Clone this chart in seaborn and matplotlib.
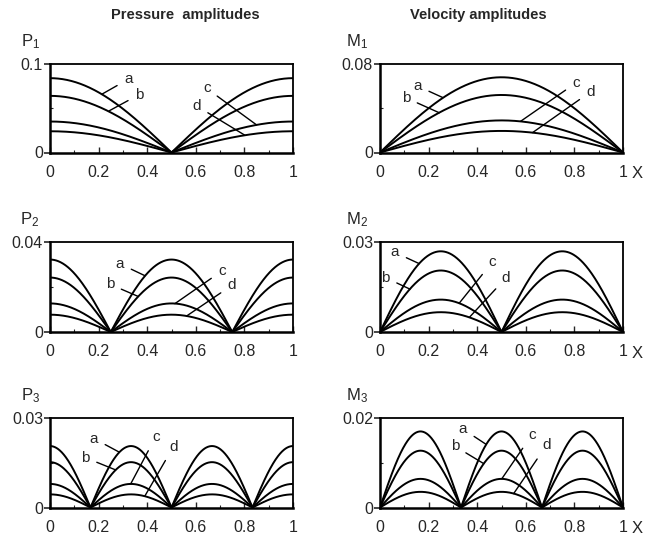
import numpy as np
import pandas as pd
import matplotlib
matplotlib.use("Agg")
import matplotlib.pyplot as plt
import seaborn as sns
from matplotlib.ticker import MultipleLocator, FixedLocator

sns.set_style("white")
plt.rcParams['font.family'] = ['Liberation Sans', 'DejaVu Sans']

curves = ["a", "b", "c", "d"]
# amplitudes (peak values of each curve)
P1_amp = [0.084, 0.064, 0.035, 0.024]
P2_amp = [0.0322, 0.0242, 0.0127, 0.0077]
P3_amp = [0.0206, 0.0152, 0.0079, 0.0044]
M1_amp = [0.068, 0.052, 0.029, 0.0195]
M2_amp = [0.0269, 0.0205, 0.0108, 0.0066]
M3_amp = [0.0170, 0.0127, 0.0064, 0.0035]
P_ymax = [0.1, 0.04, 0.03]
M_ymax = [0.08, 0.03, 0.02]
P_ytick_labels = ["0.1", "0.04", "0.03"]
M_ytick_labels = ["0.08", "0.03", "0.02"]
x_ticks = [0, 0.2, 0.4, 0.6, 0.8, 1]
x_tick_labels = ["0", "0.2", "0.4", "0.6", "0.8", "1"]

# label annotations: (label, text x, text y, point x, point y)
P_notes = [
    [("a", 0.322, 0.0828, 0.213, 0.0658), ("b", 0.367, 0.0655, 0.243, 0.0470),
     ("c", 0.645, 0.0724, 0.850, 0.0312), ("d", 0.604, 0.0525, 0.802, 0.0195)],
    [("a", 0.288, 0.0303, 0.391, 0.0250), ("b", 0.247, 0.0212, 0.363, 0.0158),
     ("c", 0.707, 0.0271, 0.514, 0.0126), ("d", 0.748, 0.0207, 0.562, 0.0071)],
    [("a", 0.181, 0.0231, 0.284, 0.0186), ("b", 0.146, 0.0167, 0.270, 0.0126),
     ("c", 0.435, 0.0237, 0.332, 0.0079), ("d", 0.508, 0.0204, 0.390, 0.0038)],
]
M_notes = [
    [("a", 0.155, 0.0600, 0.258, 0.0497), ("b", 0.107, 0.0494, 0.244, 0.0359),
     ("c", 0.807, 0.0630, 0.578, 0.0281), ("d", 0.866, 0.0548, 0.628, 0.0180)],
    [("a", 0.062, 0.0265, 0.161, 0.0228), ("b", 0.023, 0.0181, 0.123, 0.0143),
     ("c", 0.461, 0.0232, 0.326, 0.0096), ("d", 0.519, 0.0181, 0.368, 0.0049)],
    [("a", 0.342, 0.0175, 0.437, 0.0141), ("b", 0.308, 0.0137, 0.427, 0.0098),
     ("c", 0.626, 0.0163, 0.501, 0.0064), ("d", 0.685, 0.0139, 0.550, 0.0031)],
]

x = np.linspace(0, 1, 601)

def make_df(amps, n, kind):
    rows = []
    for name, A in zip(curves, amps):
        if kind == "P":
            y = A * np.abs(np.cos(n * np.pi * x))
        else:
            y = A * np.abs(np.sin(n * np.pi * x))
        rows.append(pd.DataFrame({"x": x, "y": y, "curve": name}))
    return pd.concat(rows, ignore_index=True)

fig = plt.figure(figsize=(6.52, 5.35), dpi=100)
W, H = 652, 535
rows_px = [(64, 152.5), (242, 332), (418, 507.5)]
cols_px = [50, 380]
aw = 243

P_amps = [P1_amp, P2_amp, P3_amp]
M_amps = [M1_amp, M2_amp, M3_amp]

for r, (top, bot) in enumerate(rows_px):
    for c, left in enumerate(cols_px):
        ax = fig.add_axes([left / W, 1 - bot / H, aw / W, (bot - top) / H])
        kind = "P" if c == 0 else "M"
        amps = P_amps[r] if c == 0 else M_amps[r]
        ymax = P_ymax[r] if c == 0 else M_ymax[r]
        ylab = P_ytick_labels[r] if c == 0 else M_ytick_labels[r]
        notes = P_notes[r] if c == 0 else M_notes[r]
        df = make_df(amps, r + 1, kind)
        sns.lineplot(data=df, x="x", y="y", units="curve", estimator=None,
                     color="black", lw=1.4, ax=ax, legend=False)
        ax.set_xlim(0, 1)
        ax.set_ylim(0, ymax)
        ax.set_xlabel("")
        ax.set_ylabel("")
        for s in ax.spines.values():
            s.set_visible(True)
            s.set_color("black")
            s.set_linewidth(1.3)
        ax.spines["left"].set_linewidth(1.8)
        ax.spines["bottom"].set_linewidth(1.8)
        ax.set_xticks(x_ticks)
        ax.set_xticklabels(x_tick_labels)
        ax.xaxis.set_minor_locator(MultipleLocator(0.1))
        ax.set_yticks([0, ymax])
        ax.set_yticklabels(["0", ylab])
        ax.yaxis.set_minor_locator(FixedLocator([ymax / 2]))
        ax.tick_params(axis="x", which="major", direction="in", length=4,
                       width=1, labelsize=11.5, pad=9, bottom=True)
        ax.tick_params(axis="x", which="minor", direction="in", length=2.5,
                       width=0.8, bottom=True)
        ax.tick_params(axis="y", which="major", direction="out", length=4,
                       width=1.2, labelsize=11.5, pad=1, left=True)
        ax.tick_params(axis="y", which="minor", direction="in", length=2.5,
                       width=0.8, left=True)
        for lab, tx, ty, px, py in notes:
            ax.annotate(lab, xy=(px, py), xytext=(tx, ty), fontsize=11,
                        ha="center", va="center",
                        arrowprops=dict(arrowstyle="-", color="black", lw=1.0,
                                        shrinkA=3, shrinkB=0))
        name = ("P" if c == 0 else "M") + "_" + str(r + 1)
        xoff = -0.082 if c == 0 else -0.095
        ax.text(xoff, 1.0 + 22 / (bot - top), "$\\mathregular{" + name + "}$",
                transform=ax.transAxes, fontsize=12, ha="center", va="center")
        if c == 1:
            ax.text(1.058, -21 / (bot - top), "X", transform=ax.transAxes,
                    fontsize=12, ha="center", va="center")

fig.text(185 / W, 1 - 15 / H, "Pressure  amplitudes", fontsize=10.5,
         fontweight="bold", ha="center", va="center")
fig.text(478 / W, 1 - 15 / H, "Velocity amplitudes", fontsize=10.5,
         fontweight="bold", ha="center", va="center")

fig.savefig("out.png", dpi=100, facecolor="white")
